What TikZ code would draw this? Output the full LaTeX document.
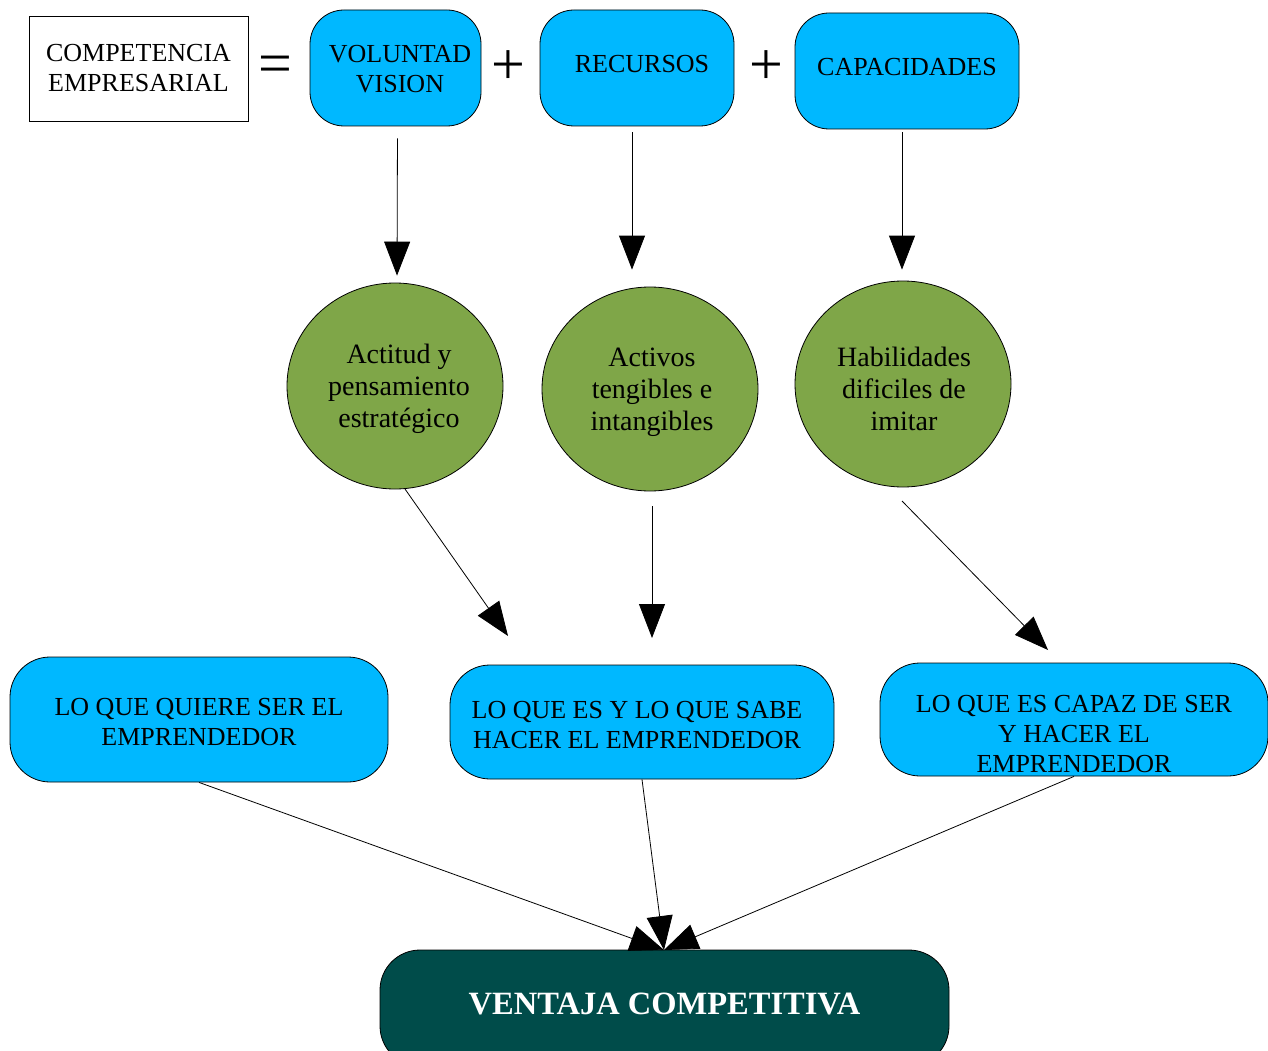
\documentclass[tikz,border=0pt]{standalone}
\usepackage{fontspec}
\setmainfont{Liberation Serif}
\usetikzlibrary{arrows.meta,shapes.geometric}
\definecolor{cyanbox}{RGB}{0,184,255}
\definecolor{olivec}{RGB}{127,166,72}
\definecolor{tealbox}{RGB}{0,76,74}
\tikzset{
  bluebox/.style={draw=black, line width=0.8pt, fill=cyanbox, rounded corners=34pt, align=center,
    font=\fontsize{26}{30}\selectfont, inner sep=0pt},
  greenc/.style={draw=black, line width=0.8pt, fill=olivec, ellipse, align=center,
    font=\fontsize{28}{32}\selectfont, inner sep=0pt, minimum width=216pt, minimum height=206pt},
  ctext/.style={align=center, font=\fontsize{28}{32}\selectfont, inner sep=0pt},
  btext/.style={align=center, font=\fontsize{26}{30}\selectfont, inner sep=0pt},
  symb/.style={font=\fontsize{60}{60}\selectfont, inner sep=0pt},
  arr/.style={line width=0.8pt, -{Triangle[length=34pt,width=26pt]}},
}
\begin{document}
\begin{tikzpicture}[x=1pt,y=-1pt]
\useasboundingbox (0,0) rectangle (1268,1051);
% top row
\node[draw=black, line width=0.8pt, minimum width=219pt, minimum height=105pt, align=center,
  font=\fontsize{26}{30}\selectfont, inner sep=0pt] (comp) at (138.5,68.5) {COMPETENCIA\\EMPRESARIAL};
\node[symb] (eq) at (275,70) {=};
\node[bluebox, minimum width=171pt, minimum height=116pt] (vol) at (395.5,68) {};
\node[btext] (voltxt) at (400,69) {VOLUNTAD\\VISION};
\node[symb] (p1) at (508,68) {+};
\node[bluebox, minimum width=194pt, minimum height=116pt] (rec) at (637,68) {};
\node[btext] (rectxt) at (642,64) {RECURSOS};
\node[symb] (p2) at (766,68) {+};
\node[bluebox, minimum width=224pt, minimum height=116pt] (cap) at (907,71) {};
\node[btext] (captxt) at (907,67) {CAPACIDADES};
% circles
\node[greenc] (act) at (395,386) {};
\node[ctext] (acttxt) at (399,389) {Actitud y\\pensamiento\\estratégico};
\node[greenc, minimum height=204pt] (acv) at (650,389) {};
\node[ctext] (acvtxt) at (652,392) {Activos\\tengibles e\\intangibles};
\node[greenc] (hab) at (903,384) {};
\node[ctext] (habtxt) at (904,389) {Habilidades\\dificiles de\\imitar};
% bottom boxes
\node[bluebox, minimum width=378pt, minimum height=125pt, rounded corners=40pt] (quiere) at (199,719.5) {};
\node[btext] (quieretxt) at (199,722) {LO QUE QUIERE SER EL\\EMPRENDEDOR};
\node[bluebox, minimum width=384pt, minimum height=114pt, rounded corners=40pt] (es) at (642,722) {};
\node[btext] (estxt) at (637,725) {LO QUE ES Y LO QUE SABE\\HACER EL EMPRENDEDOR};
\node[bluebox, minimum width=388pt, minimum height=113pt, rounded corners=40pt] (capaz) at (1074,719.5) {};
\node[btext] (capaztxt) at (1074,734) {LO QUE ES CAPAZ DE SER\\Y HACER EL\\EMPRENDEDOR};
\node[draw=black, line width=0.8pt, fill=tealbox, rounded corners=40pt, minimum width=569pt, minimum height=116pt] (vent) at (664.5,1008) {};
\node[text=white, font=\bfseries\fontsize{32.5}{36}\selectfont, inner sep=0pt] (venttxt) at (664.5,1004) {VENTAJA COMPETITIVA};
% connectors: top to circles
\draw[arr, shorten <=12pt, shorten >=7pt] ([xshift=2pt]vol.south) -- ([xshift=2pt]act.north);
\draw[arr, shorten <=6pt, shorten >=17pt] ([xshift=-5pt]rec.south) -- ([xshift=-18pt]acv.north);
\draw[arr, shorten <=3pt, shorten >=11pt] ([xshift=-5pt]cap.south) -- ([xshift=-1pt]hab.north);
% circles to bottom
\coordinate (a1s) at (405,489);
\coordinate (a1e) at (508,636);
\coordinate (a2s) at (652,506);
\coordinate (a2e) at (652,638);
\coordinate (a3s) at (902,501);
\coordinate (a3e) at (1048,650);
\draw[arr] (a1s) -- (a1e);
\draw[arr] (a2s) -- (a2e);
\draw[arr] (a3s) -- (a3e);
% bottom to ventaja
\coordinate (vtip) at (664,950);
\draw[arr] (quiere.south) -- (vtip);
\draw[arr] (es.south) -- (vtip);
\draw[arr] (capaz.south) -- (vtip);
\end{tikzpicture}
\end{document}
